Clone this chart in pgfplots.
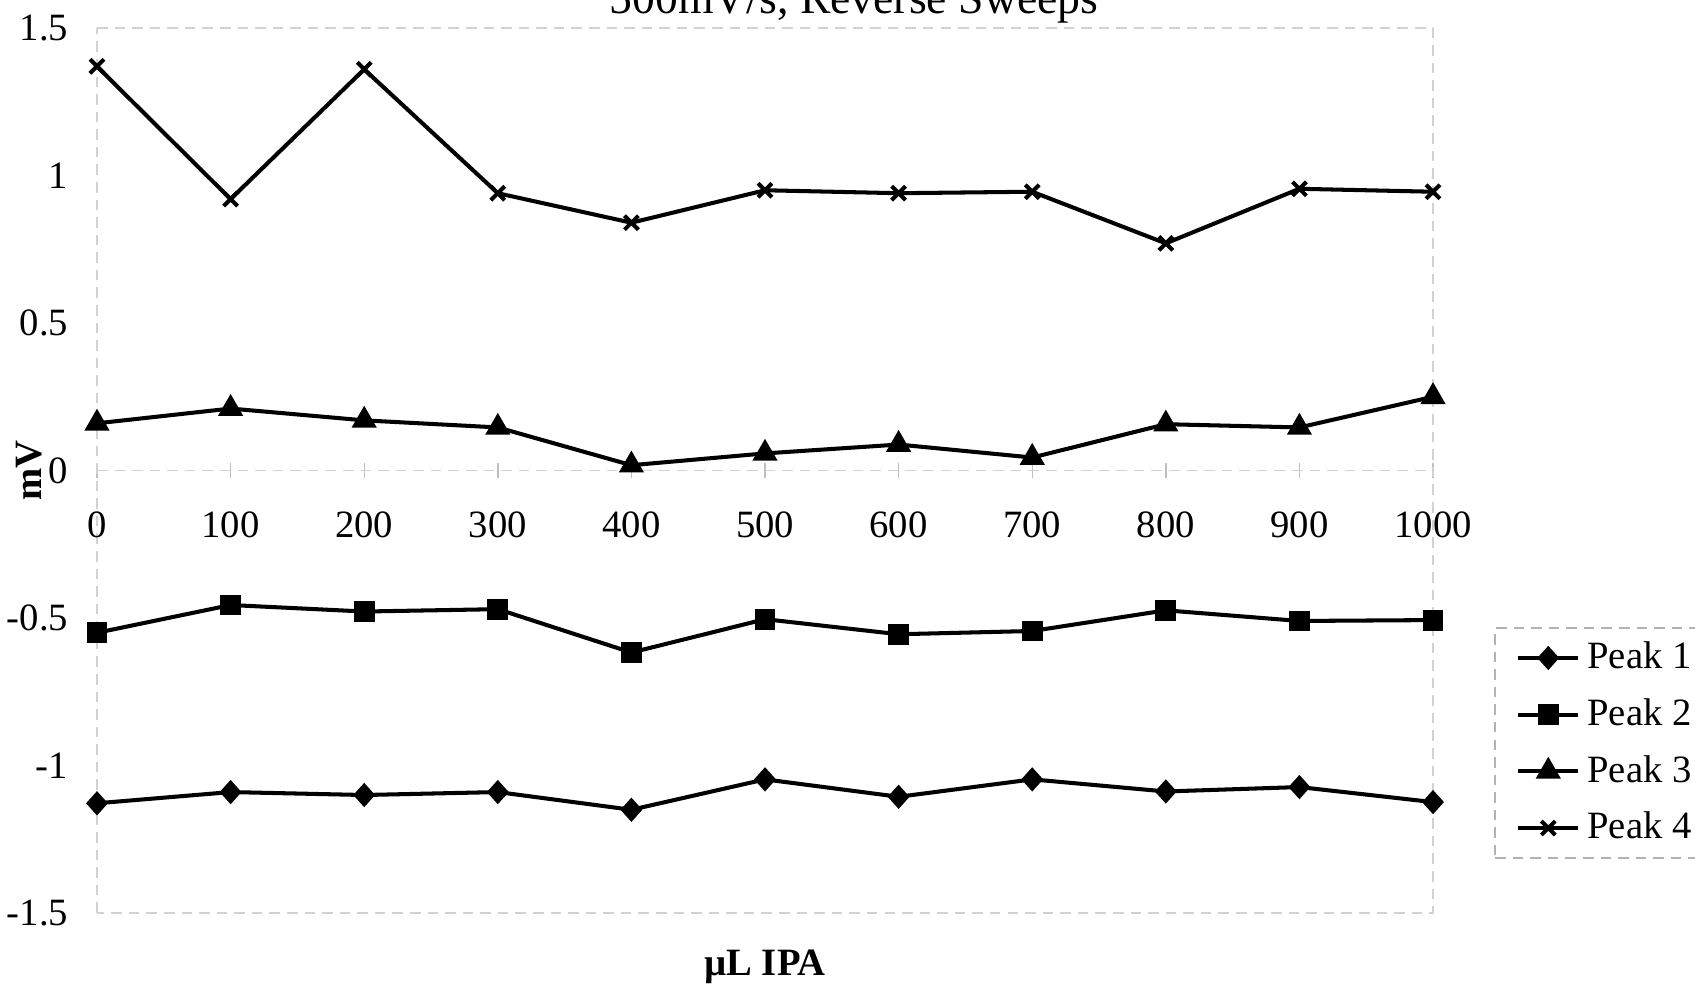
\documentclass[border=0pt]{standalone}
\usepackage{pgfplots}
\pgfplotsset{compat=1.18}
\usepackage{fontspec}
\setmainfont{Liberation Serif}

\begin{document}
\begin{tikzpicture}
\begin{axis}[
  width=13.36cm, height=8.85cm, scale only axis,
  xmin=0, xmax=1000, ymin=-1.5, ymax=1.5,
  enlargelimits=false,
  axis x line=middle, axis y line=left,
  axis line style={-, gray!35, densely dashed, line width=0.4pt},
  hide obscured x ticks=false, hide obscured y ticks=false,
  xtick={0,100,...,1000},
  xticklabels={0,100,200,300,400,500,600,700,800,900,1000},
  ytick={-1.5,-1,-0.5,0,0.5,1,1.5},
  yticklabels={-1.5,-1,-0.5,0,0.5,1,1.5},
  xtick style={gray!50, solid, line width=0.4pt},
  ytick style={draw=none},
  major tick length=4pt,
  ticklabel style={font=\fontsize{11}{13}\selectfont, black},
  xticklabel style={yshift=-0.22cm},
  yticklabel style={xshift=-0.095cm},
  xlabel={\textbf{µL IPA}},
  xlabel style={at={(rel axis cs:0.5,0)}, anchor=center, yshift=-0.54cm, font=\fontsize{11}{13}\selectfont},
  ylabel={\textbf{mV}},
  ylabel style={at={(rel axis cs:0,0.5)}, anchor=center, yshift=0.68cm, font=\fontsize{11}{13}\selectfont},
  legend style={at={(rel axis cs:1.046,0.323)}, anchor=north west,
    draw=gray!60, densely dashed, font=\fontsize{11}{13}\selectfont,
    row sep=3pt, inner xsep=6pt, inner ysep=2pt},
  legend cell align=left,
  every axis plot/.append style={solid, black, line width=1.15pt, mark options={solid}},
  clip=false,
]
\addplot[mark=diamond*, mark size=2.6pt, mark options={xscale=1.2}]
  coordinates {(0,-1.128) (100,-1.09) (200,-1.10) (300,-1.09) (400,-1.15) (500,-1.047) (600,-1.106) (700,-1.047) (800,-1.088) (900,-1.073) (1000,-1.124)};
\addlegendentry{Peak 1}
\addplot[mark=square*, mark size=2.4pt]
  coordinates {(0,-0.55) (100,-0.456) (200,-0.478) (300,-0.47) (400,-0.617) (500,-0.504) (600,-0.555) (700,-0.544) (800,-0.474) (900,-0.51) (1000,-0.507)};
\addlegendentry{Peak 2}
\addplot[mark=triangle*, mark size=3pt]
  coordinates {(0,0.16) (100,0.21) (200,0.17) (300,0.146) (400,0.018) (500,0.058) (600,0.088) (700,0.044) (800,0.157) (900,0.146) (1000,0.25)};
\addlegendentry{Peak 3}
\addplot[mark=x, mark size=2.8pt]
  coordinates {(0,1.37) (100,0.92) (200,1.36) (300,0.94) (400,0.84) (500,0.95) (600,0.94) (700,0.945) (800,0.77) (900,0.955) (1000,0.945)};
\addlegendentry{Peak 4}
% faint frame of the plot area
\draw[gray!35, densely dashed, line width=0.4pt] (rel axis cs:0,1) -- (rel axis cs:1,1) -- (rel axis cs:1,0) -- (rel axis cs:0,0);
\node[anchor=base, font=\fontsize{13}{15}\selectfont] at ([yshift=0.15cm]rel axis cs:0.5666,1) {500mV/s, Reverse Sweeps};
\coordinate (A) at (rel axis cs:0,0);
\coordinate (B) at (rel axis cs:1,1);
\end{axis}
\pgfresetboundingbox
\useasboundingbox ([xshift=-0.97cm,yshift=-0.76cm]A) rectangle ([xshift=2.62cm,yshift=0.28cm]B);
\end{tikzpicture}
\end{document}
